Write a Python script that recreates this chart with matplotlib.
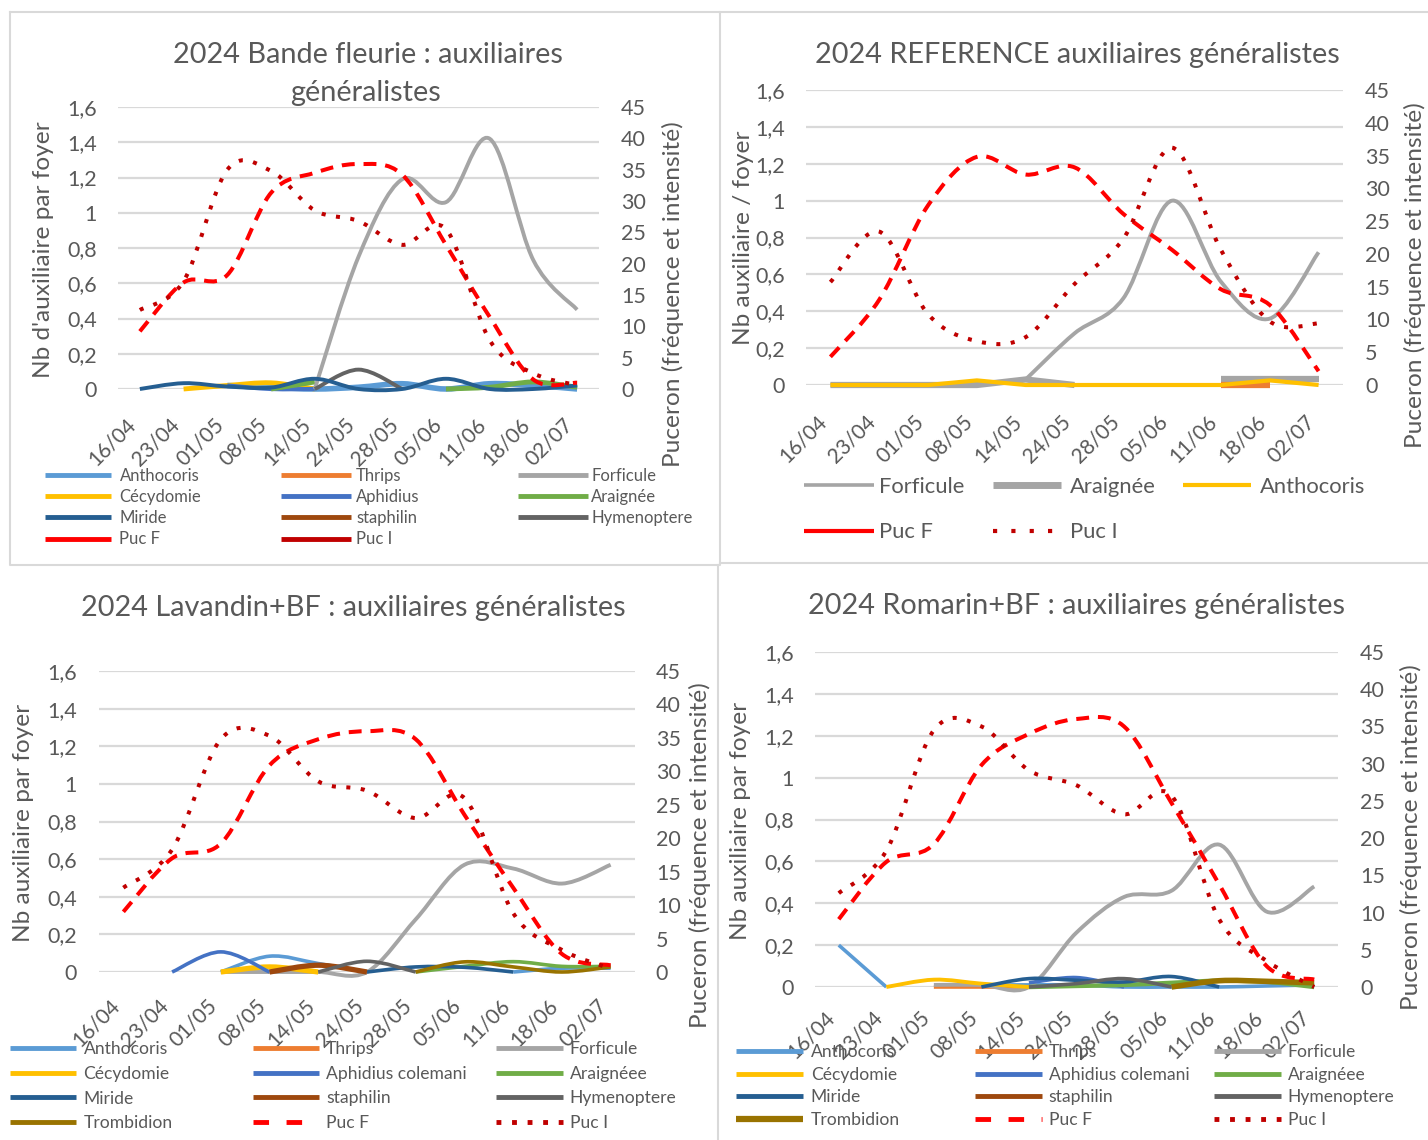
import matplotlib
matplotlib.use("Agg")
import matplotlib.pyplot as plt
from matplotlib.path import Path
from matplotlib.patches import PathPatch
from matplotlib.lines import Line2D
import numpy as np

plt.rcParams['font.family'] = ['Lato', 'DejaVu Sans']

# ---------------- data ----------------
dates = ["16/04", "23/04", "01/05", "08/05", "14/05", "24/05", "28/05", "05/06", "11/06", "18/06", "02/07"]
left_ticks = [0, 0.2, 0.4, 0.6, 0.8, 1.0, 1.2, 1.4, 1.6]
left_tick_labels = ["0", "0,2", "0,4", "0,6", "0,8", "1", "1,2", "1,4", "1,6"]
right_ticks = [0, 5, 10, 15, 20, 25, 30, 35, 40, 45]

N = None
# Panel 1 : Bande fleurie
bf_anthocoris = [N, N, 0.02, 0.01, 0.0, 0.01, 0.03, 0.0, 0.03, 0.02, 0.0]
bf_cecydomie = [N, 0.0, 0.02, 0.035, 0.0, N, N, N, N, N, N]
bf_thrips = [N, N, N, N, N, N, N, N, N, N, N]
bf_aphidius = [N, N, 0.02, 0.0, 0.0, N, N, N, N, N, N]
bf_forficule = [N, N, N, N, 0.0, 0.75, 1.19, 1.06, 1.42, 0.73, 0.45]
bf_araignee = [N, N, N, 0.0, 0.04, N, N, 0.0, 0.01, 0.04, 0.01]
bf_miride = [0.0, 0.033, 0.014, 0.008, 0.058, 0.0, 0.0, 0.058, 0.0, 0.0, 0.02]
bf_staphilin = [N, N, N, N, N, N, N, N, N, N, N]
bf_hymenoptere = [N, N, N, N, 0.0, 0.11, 0.0, N, N, N, N]
bf_puc_f = [9.2, 17.0, 18.2, 31.3, 34.5, 35.9, 34.2, 23.0, 11.5, 1.5, 1.0]
bf_puc_i = [12.6, 17.2, 35.0, 34.8, 28.5, 26.8, 23.0, 25.5, 7.8, 2.5, 0.6]

# Panel 2 : REFERENCE
ref_forficule = [N, N, N, N, 0.03, 0.28, 0.47, 1.0, 0.56, 0.36, 0.72]
ref_araignee = [0.0, 0.0, 0.0, 0.0, 0.03, 0.0, N, N, 0.03, 0.03, 0.03]
ref_anthocoris = [0.0, 0.0, 0.0, 0.025, 0.0, 0.0, 0.0, 0.0, 0.0, 0.025, 0.0]
ref_thrips = [N, N, N, N, N, N, N, N, 0.0, 0.0, N]
ref_puc_f = [4.3, 13.0, 27.4, 34.8, 32.1, 33.2, 26.1, 20.6, 14.6, 12.2, 2.1]
ref_puc_i = [15.7, 23.4, 10.8, 6.7, 7.3, 15.4, 22.3, 36.2, 20.6, 9.7, 9.4]

# Panel 3 : Lavandin+BF
lav_anthocoris = [N, N, 0.0, 0.084, 0.045, 0.0, N, N, 0.0, 0.02, 0.02]
lav_cecydomie = [N, N, 0.0, 0.027, 0.0, N, N, N, N, N, N]
lav_thrips = [N, N, N, N, N, N, N, N, N, N, N]
lav_aphidius = [N, 0.0, 0.107, 0.0, N, N, N, N, N, N, N]
lav_forficule = [N, N, 0.0, 0.0, 0.0, 0.0, 0.28, 0.57, 0.55, 0.47, 0.57]
lav_araignee = [N, N, N, N, N, N, 0.0, 0.03, 0.055, 0.03, 0.03]
lav_miride = [N, N, N, N, N, 0.0, 0.027, 0.025, 0.0, N, N]
lav_staphilin = [N, N, N, 0.0, 0.036, 0.0, N, N, N, N, N]
lav_hymenoptere = [N, N, N, N, 0.0, 0.057, 0.0, N, N, N, N]
lav_trombidion = [N, N, N, N, N, N, 0.0, 0.054, 0.027, 0.0, 0.027]
lav_puc_f = [9.0, 17.0, 19.2, 30.9, 34.8, 36.0, 34.8, 23.5, 12.6, 2.7, 1.0]
lav_puc_i = [12.6, 18.3, 34.8, 35.3, 28.5, 27.1, 23.0, 26.0, 8.8, 3.3, 0.5]

# Panel 4 : Romarin+BF
rom_anthocoris = [0.2, 0.0, N, 0.01, 0.01, 0.01, 0.0, 0.0, 0.0, 0.005, 0.01]
rom_cecydomie = [N, 0.0, 0.035, 0.016, 0.0, N, N, N, N, N, N]
rom_thrips = [N, N, 0.0, 0.0, 0.0, N, N, N, N, N, N]
rom_aphidius = [N, N, N, N, 0.02, 0.045, 0.0, N, N, N, N]
rom_forficule = [N, N, 0.01, 0.01, 0.0, 0.26, 0.43, 0.46, 0.68, 0.36, 0.48]
rom_araignee = [N, N, N, N, 0.0, 0.005, 0.01, 0.02, 0.03, 0.025, 0.0]
rom_miride = [N, N, N, 0.0, 0.04, 0.032, 0.024, 0.05, 0.0, N, N]
rom_staphilin = [N, N, N, N, N, N, N, N, N, N, N]
rom_hymenoptere = [N, N, N, N, 0.0, 0.016, 0.04, 0.0, N, N, N]
rom_trombidion = [N, N, N, N, N, N, N, 0.0, 0.03, 0.027, 0.02]
rom_puc_f = [9.1, 16.8, 19.2, 29.8, 34.0, 36.0, 35.0, 24.7, 13.8, 2.8, 1.0]
rom_puc_i = [12.6, 18.3, 34.5, 35.0, 29.1, 27.1, 23.2, 25.7, 9.1, 3.5, 0.0]

# ---------------- style ----------------
W, H = 1428, 1140
TXT = '#595959'
GRID = '#D9D9D9'
C = dict(anthocoris='#5B9BD5', cecydomie='#FFC000', thrips='#ED7D31', aphidius='#4472C4',
         forficule='#A5A5A5', araignee='#70AD47', miride='#255E91', staphilin='#9E480E',
         hymenoptere='#636363', trombidion='#997300', pucf='#FF0000', puci='#C00000')
DASH_F = (3.2, 2.2)
DOT_I = (1.0, 2.6)
TITLE_FS = 20.8
LABEL_FS = 17.6
TICK_FS = 15.5
XTICK_FS = 15

fig = plt.figure(figsize=(W / 100, H / 100), dpi=100)


def fx(x):
    return x / W


def fy(y):
    return 1 - y / H


def curve(ax, ys, color, lw, dashes=None, smooth=True, z=3):
    runs, cur = [], []
    for i, y in enumerate(ys):
        if y is None:
            if cur:
                runs.append(cur)
            cur = []
        else:
            cur.append((i, y))
    if cur:
        runs.append(cur)
    for run in runs:
        if len(run) < 2:
            continue
        P = np.array(run, float)
        n = len(P)
        verts, codes = [P[0]], [Path.MOVETO]
        for i in range(n - 1):
            if smooth:
                pm = P[i - 1] if i > 0 else P[i]
                pp = P[i + 2] if i + 2 < n else P[i + 1]
                c1 = P[i] + (P[i + 1] - pm) / 6.0
                c2 = P[i + 1] - (pp - P[i]) / 6.0
                verts += [c1, c2, P[i + 1]]
                codes += [Path.CURVE4] * 3
            else:
                verts.append(P[i + 1])
                codes.append(Path.LINETO)
        patch = PathPatch(Path(verts, codes), fill=False, edgecolor=color, lw=lw,
                          zorder=z, capstyle='butt', joinstyle='round', clip_on=False)
        if dashes is not None:
            patch.set_linestyle((0, dashes))
        ax.add_patch(patch)


def make_panel(box, lpad, rpad, xpad):
    x0, yt, x1, yb = box
    ax = fig.add_axes([fx(x0), fy(yb), fx(x1 - x0), (yb - yt) / H])
    ax2 = ax.twinx()
    ax.set_xlim(-0.5, 10.5)
    ax.set_ylim(0, 1.6)
    ax2.set_ylim(0, 45)
    ax.set_yticks(left_ticks)
    ax.set_yticklabels(left_tick_labels, fontsize=TICK_FS, color=TXT)
    ax2.set_yticks(right_ticks)
    ax2.set_yticklabels([str(t) for t in right_ticks], fontsize=TICK_FS, color=TXT)
    ax.set_xticks(range(len(dates)))
    ax.set_xticklabels(dates, rotation=45, ha='right', va='top', fontsize=XTICK_FS, color=TXT)
    ax.tick_params(axis='y', length=0, pad=lpad)
    ax2.tick_params(axis='y', length=0, pad=rpad)
    ax.tick_params(axis='x', length=0, pad=xpad)
    ax.grid(axis='y', color=GRID, lw=1.6)
    ax.set_axisbelow(True)
    for a in (ax, ax2):
        for s in a.spines.values():
            s.set_visible(False)
        a.patch.set_visible(False)
    return ax, ax2


def legend_col(items, x, ytop, fs, hl, tp, ls):
    handles = [h for h, _ in items]
    labels = [l for _, l in items]
    fig.legend(handles, labels, loc='upper left', bbox_to_anchor=(fx(x), fy(ytop)),
               bbox_transform=fig.transFigure, frameon=False, borderpad=0, borderaxespad=0,
               handlelength=hl, handletextpad=tp, labelspacing=ls, fontsize=fs,
               labelcolor=TXT)


def lh(color, lw=3.5, ls='-'):
    return Line2D([], [], color=color, lw=lw, ls=ls, solid_capstyle='butt', dash_capstyle='butt')


def ftext(x, y, s, fs, rot=0):
    fig.text(fx(x), fy(y), s, fontsize=fs, color=TXT, rotation=rot, ha='center', va='center')


# ---------------- borders ----------------
def fline(xs, ys):
    fig.add_artist(Line2D([fx(v) for v in xs], [fy(v) for v in ys], color=GRID, lw=1.5,
                          transform=fig.transFigure))


fline([10, 720, 720, 10, 10], [12, 12, 565, 565, 12])
fline([720, 1428], [12, 12])
fline([720, 1428], [563, 563])
fline([718, 718], [565, 1140])

# ---------------- panel 1 ----------------
ax, ax2 = make_panel((118, 107, 599, 389), 15, 16, 18)
curve(ax, bf_anthocoris, C['anthocoris'], 4.0)
curve(ax, bf_cecydomie, C['cecydomie'], 3.5)
curve(ax, bf_aphidius, C['aphidius'], 3.0)
curve(ax, bf_araignee, C['araignee'], 3.5)
curve(ax, bf_forficule, C['forficule'], 2.8)
curve(ax, bf_hymenoptere, C['hymenoptere'], 2.8)
curve(ax, bf_miride, C['miride'], 2.8)
curve(ax2, bf_puc_f, C['pucf'], 2.9, dashes=DASH_F)
curve(ax2, bf_puc_i, C['puci'], 2.9, dashes=DOT_I)
ftext(368, 55, "2024 Bande fleurie : auxiliaires", TITLE_FS)
ftext(366, 93, "généralistes", TITLE_FS)
ftext(44, 250, "Nb d'auxiliaire par foyer", LABEL_FS, 90)
ftext(673, 294, "Puceron (fréquence et intensité)", LABEL_FS, 90)
fs1 = 12
legend_col([(lh(C['anthocoris']), "Anthocoris"), (lh(C['cecydomie']), "Cécydomie"),
            (lh(C['miride']), "Miride"), (lh(C['pucf']), "Puc F")], 44.5, 468, fs1, 4.0, 0.5, 0.31)
legend_col([(lh(C['thrips']), "Thrips"), (lh(C['aphidius']), "Aphidius"),
            (lh(C['staphilin']), "staphilin"), (lh(C['puci']), "Puc I")], 281, 468, fs1, 4.2, 0.3, 0.31)
legend_col([(lh(C['forficule']), "Forficule"), (lh(C['araignee']), "Araignée"),
            (lh(C['hymenoptere']), "Hymenoptere")], 518, 468, fs1, 4.2, 0.2, 0.31)

# ---------------- panel 2 ----------------
ax, ax2 = make_panel((806, 90, 1343, 385), 15, 16, 19)
curve(ax, ref_araignee, C['forficule'], 4.5, smooth=False)
curve(ax, ref_thrips, C['thrips'], 4.5, smooth=False)
curve(ax, ref_forficule, C['forficule'], 2.8)
curve(ax, ref_anthocoris, C['cecydomie'], 3.0, smooth=False)
curve(ax2, ref_puc_f, C['pucf'], 2.9, dashes=DASH_F)
curve(ax2, ref_puc_i, C['puci'], 2.9, dashes=DOT_I)
ftext(1077, 55, "2024 REFERENCE auxiliaires généralistes", TITLE_FS)
ftext(743, 238, "Nb auxiliaire / foyer", LABEL_FS, 90)
ftext(1415, 275, "Puceron (fréquence et intensité)", LABEL_FS, 90)
fs2 = 15.8
legend_col([(lh(C['forficule'], 2.6), "Forficule"), (lh(C['pucf'], 3.0), "Puc F")],
           803.5, 477, fs2, 3.2, 0.25, 1.15)
legend_col([(lh(C['forficule'], 5.0), "Araignée"), (lh(C['puci'], 3.0, (0, (1, 3.4))), "Puc I")],
           993, 477, fs2, 3.1, 0.4, 1.15)
legend_col([(lh(C['cecydomie'], 3.0), "Anthocoris")], 1183, 477, fs2, 3.1, 0.4, 1.15)

# ---------------- panel 3 ----------------
ax, ax2 = make_panel((99, 671, 635, 972), 16, 15, 17)
curve(ax, lav_forficule, C['forficule'], 2.8)
curve(ax, lav_anthocoris, C['anthocoris'], 2.6)
curve(ax, lav_cecydomie, C['cecydomie'], 3.8)
curve(ax, lav_aphidius, C['aphidius'], 2.6)
curve(ax, lav_araignee, C['araignee'], 2.6)
curve(ax, lav_miride, C['miride'], 2.6)
curve(ax, lav_staphilin, C['staphilin'], 3.8)
curve(ax, lav_hymenoptere, C['hymenoptere'], 2.6)
curve(ax, lav_trombidion, C['trombidion'], 2.6)
curve(ax2, lav_puc_f, C['pucf'], 2.9, dashes=DASH_F)
curve(ax2, lav_puc_i, C['puci'], 2.9, dashes=DOT_I)
ftext(353, 608, "2024 Lavandin+BF : auxiliaires généralistes", TITLE_FS)
ftext(24, 823, "Nb auxiliaire par foyer", LABEL_FS, 90)
ftext(700, 855, "Puceron (fréquence et intensité)", LABEL_FS, 90)
fs3 = 12.6
dF = (0, (3.2, 3.6))
dI = (0, (1, 2.2))
legend_col([(lh(C['anthocoris']), "Anthocoris"), (lh(C['cecydomie']), "Cécydomie"),
            (lh(C['miride']), "Miride"), (lh(C['trombidion']), "Trombidion")], 10, 1041, fs3, 3.8, 0.4, 0.5)
legend_col([(lh(C['thrips']), "Thrips"), (lh(C['aphidius']), "Aphidius colemani"),
            (lh(C['staphilin']), "staphilin"), (lh(C['pucf'], 3.5, dF), "Puc F")], 252.5, 1041, fs3, 3.8, 0.4, 0.5)
legend_col([(lh(C['forficule']), "Forficule"), (lh(C['araignee']), "Araignéee"),
            (lh(C['hymenoptere']), "Hymenoptere"), (lh(C['puci'], 3.5, dI), "Puc I")], 496, 1041, fs3, 3.8, 0.4, 0.5)

# ---------------- panel 4 ----------------
ax, ax2 = make_panel((815, 652, 1338, 987), 15, 16, 15)
curve(ax, rom_anthocoris, C['anthocoris'], 2.6)
curve(ax, rom_thrips, C['thrips'], 2.6)
curve(ax, rom_forficule, C['forficule'], 2.8)
curve(ax, rom_cecydomie, C['cecydomie'], 2.8)
curve(ax, rom_aphidius, C['aphidius'], 2.6)
curve(ax, rom_araignee, C['araignee'], 3.2)
curve(ax, rom_miride, C['miride'], 2.6)
curve(ax, rom_hymenoptere, C['hymenoptere'], 2.6)
curve(ax, rom_trombidion, C['trombidion'], 4.0)
curve(ax2, rom_puc_f, C['pucf'], 2.9, dashes=DASH_F)
curve(ax2, rom_puc_i, C['puci'], 2.9, dashes=DOT_I)
ftext(1077, 606, "2024 Romarin+BF : auxiliaires généralistes", TITLE_FS)
ftext(740, 821, "Nb auxiliaire par foyer", LABEL_FS, 90)
ftext(1411, 837, "Puceron (fréquence et intensité)", LABEL_FS, 90)
legend_col([(lh(C['anthocoris']), "Anthocoris"), (lh(C['cecydomie']), "Cécydomie"),
            (lh(C['miride']), "Miride"), (lh(C['trombidion'], 4.5), "Trombidion")], 736, 1044, fs3, 3.85, 0.42, 0.38)
legend_col([(lh(C['thrips']), "Thrips"), (lh(C['aphidius']), "Aphidius colemani"),
            (lh(C['staphilin']), "staphilin"), (lh(C['pucf'], 3.5, dF), "Puc F")], 975, 1044, fs3, 3.8, 0.42, 0.38)
legend_col([(lh(C['forficule']), "Forficule"), (lh(C['araignee']), "Araignéee"),
            (lh(C['hymenoptere']), "Hymenoptere"), (lh(C['puci'], 3.5, dI), "Puc I")], 1214, 1044, fs3, 3.8, 0.42, 0.38)

fig.savefig("out.png", dpi=100)
